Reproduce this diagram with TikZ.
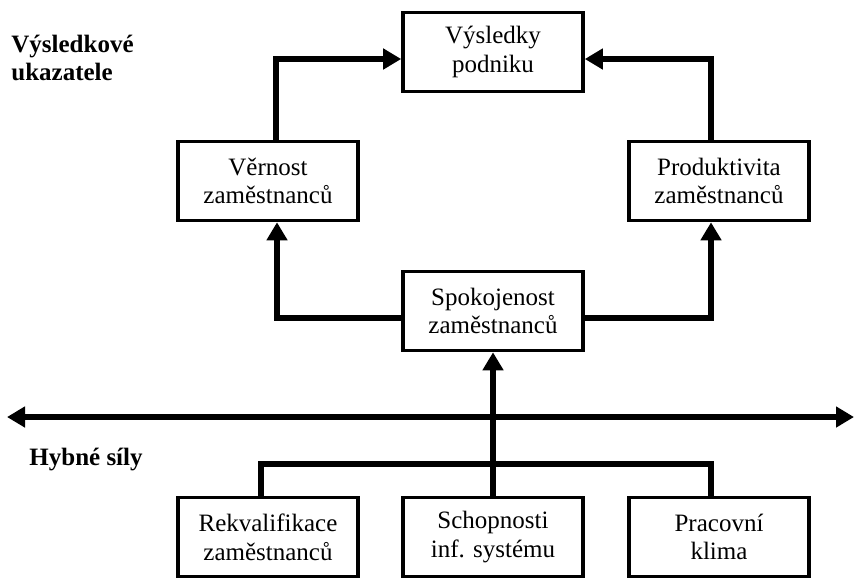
\documentclass[tikz,border=0pt]{standalone}
\usepackage{fontspec}
\setmainfont{Liberation Serif}
\usetikzlibrary{arrows.meta}

\begin{document}
\begin{tikzpicture}[x=0.5pt,y=-0.5pt,
        box/.style={draw,line width=1.8pt,align=center,inner sep=0pt,
                    minimum width=90pt,minimum height=39.5pt,
                    font=\fontsize{12.5}{14.4}\selectfont},
        sidetext/.style={align=left,inner sep=0pt,
                    font=\fontsize{12.5}{14.4}\selectfont\bfseries},
        conn/.style={line width=2.9pt,-{Triangle[length=9pt,width=10pt]}}]
        \useasboundingbox (0,0) rectangle (854,579);
        \node[box] (vys) at (493,52) {Výsledky\\podniku};
        \node[box] (ver) at (268,181) {Věrnost\\zaměstnanců};
        \node[box] (pro) at (719,181) {Produktivita\\zaměstnanců};
        \node[box] (spo) at (493,311) {Spokojenost\\zaměstnanců};
        \node[box] (rek) at (268,537) {Rekvalifikace\\zaměstnanců};
        \node[box] (sch) at (493,537) {Schopnosti\\inf. systému};
        \node[box] (pra) at (719,537) {Pracovní\\klima};
        \node[sidetext,anchor=west] (vu) at (11,58) {Výsledkové\\ukazatele};
        \node[sidetext,anchor=base west] (hs) at (29,465) {Hybné síly};
        \coordinate (hl) at (7,417); \coordinate (hr) at (854,417);
        \coordinate (bus) at (493,464);
        \draw[conn] ([xshift=4pt]ver.north) |- ([yshift=-3.5pt]vys.west);
        \draw[conn] ([xshift=-4pt]pro.north) |- ([yshift=-3.5pt]vys.east);
        \draw[conn] ([yshift=-3.5pt]spo.west) -| ([xshift=4.5pt]ver.south);
        \draw[conn] ([yshift=-3.5pt]spo.east) -| ([xshift=-4pt]pro.south);
        \draw[conn] (sch.north) -- (spo.south);
        \draw[line width=2.9pt] ([xshift=-3.5pt]rek.north) |- (bus) -| ([xshift=-4pt]pra.north);
        \draw[conn,{Triangle[length=9pt,width=10pt]}-{Triangle[length=9pt,width=10pt]}] (hl) -- (hr);
      \end{tikzpicture}
\end{document}
